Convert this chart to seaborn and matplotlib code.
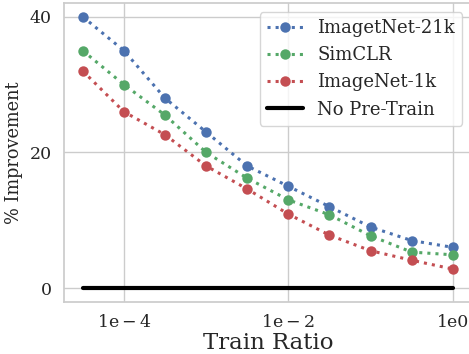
import numpy as np
import pandas as pd
import matplotlib
matplotlib.use("Agg")
import matplotlib.pyplot as plt
import seaborn as sns

train_ratio = [3.16e-5, 1e-4, 3.16e-4, 1e-3, 3.16e-3, 1e-2, 3.16e-2, 1e-1, 3.16e-1, 1.0]
imagenet21k = [40.0, 35.0, 28.0, 23.0, 18.0, 15.0, 12.0, 9.0, 7.0, 6.0]
simclr = [35.0, 30.0, 25.5, 20.0, 16.2, 13.0, 10.8, 7.7, 5.3, 4.9]
imagenet1k = [32.0, 26.0, 22.6, 18.0, 14.6, 10.9, 7.8, 5.5, 4.1, 2.8]
no_pretrain = [0.0] * len(train_ratio)
series_names = ["ImagetNet-21k", "SimCLR", "ImageNet-1k"]
xtick_vals = [1e-4, 1e-2, 1e0]
xtick_labels = [r"$\mathrm{1e}-4$", r"$\mathrm{1e}-2$", "1e0"]
ytick_vals = [0, 20, 40]

sns.set_theme(style="whitegrid")
plt.rcParams["font.family"] = ["DejaVu Serif"]
plt.rcParams["mathtext.fontset"] = "dejavuserif"

df = pd.DataFrame({
    "Train Ratio": train_ratio * 3,
    "value": imagenet21k + simclr + imagenet1k,
    "series": [s for s in series_names for _ in train_ratio],
})

pal = sns.color_palette("deep")
colors = {"ImagetNet-21k": pal[0], "SimCLR": pal[2], "ImageNet-1k": pal[3]}

fig = plt.figure(figsize=(4.69, 3.54), dpi=100)
ax = fig.add_axes([0.137, 0.148, 0.868, 0.843])

sns.lineplot(data=df, x="Train Ratio", y="value", hue="series", palette=colors,
             hue_order=series_names, marker="o", markersize=7.5, markeredgewidth=0,
             linestyle=":", linewidth=2.2, ax=ax)
ax.plot(train_ratio, no_pretrain, color="black", linewidth=3, label="No Pre-Train")

ax.set_xscale("log")
ax.set_xticks(xtick_vals)
ax.set_xticklabels(xtick_labels)
ax.minorticks_off()
ax.set_yticks(ytick_vals)
ax.tick_params(labelsize=12.5, pad=3)
ax.set_xlabel("Train Ratio", fontsize=16.5, labelpad=1)
ax.set_ylabel("% Improvement", fontsize=12.8, labelpad=5)
ax.margins(x=0.05, y=0.05)

handles, labels = ax.get_legend_handles_labels()
ax.legend(handles, labels, loc="upper right", fontsize=13, frameon=True,
          handlelength=2.0, borderaxespad=0.5)

fig.savefig("out.png", dpi=100)
